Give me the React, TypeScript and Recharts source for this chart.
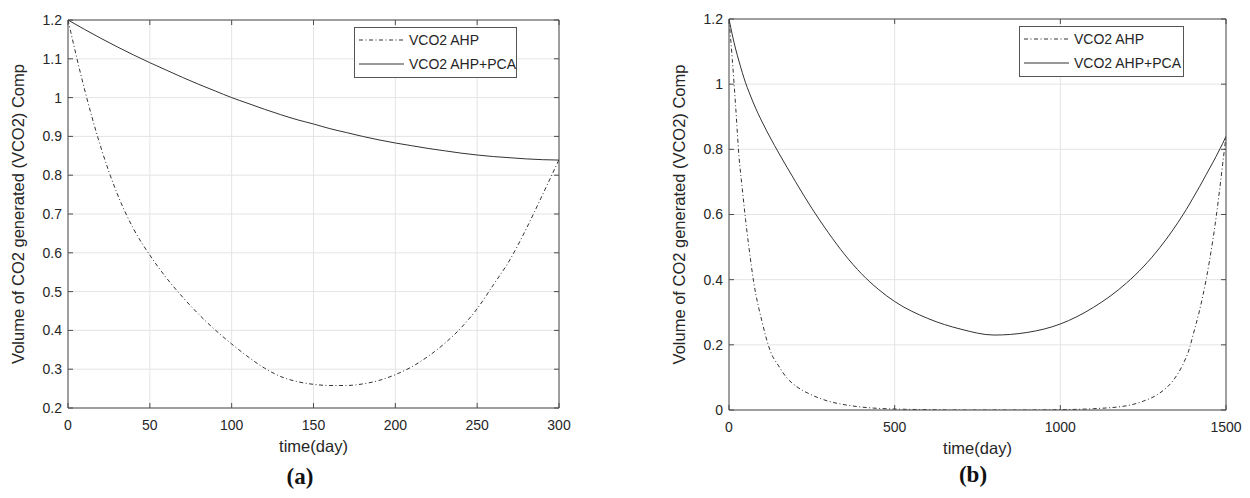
import { LineChart, Line, XAxis, YAxis, CartesianGrid, Legend, ReferenceLine } from 'recharts'

// panel (a): short horizon
const daysA = [0, 10, 20, 30, 40, 50, 60, 70, 80, 90, 100, 110, 120, 130, 140, 150, 160, 170, 180, 190, 200, 210, 220, 230, 240, 250, 260, 270, 280, 290, 300]
const ahpA = [1.2, 1.023, 0.873, 0.753, 0.662, 0.594, 0.536, 0.486, 0.441, 0.401, 0.365, 0.332, 0.303, 0.281, 0.268, 0.261, 0.258, 0.258, 0.262, 0.271, 0.286, 0.306, 0.333, 0.366, 0.406, 0.456, 0.518, 0.582, 0.662, 0.75, 0.84]
const ahpPcaA = [1.2, 1.176, 1.153, 1.131, 1.11, 1.09, 1.071, 1.052, 1.034, 1.017, 1.0, 0.985, 0.97, 0.956, 0.943, 0.932, 0.92, 0.91, 0.9, 0.891, 0.883, 0.876, 0.869, 0.863, 0.857, 0.852, 0.848, 0.845, 0.842, 0.84, 0.839]

// panel (b): long horizon
const daysB = [0, 10, 20, 30, 40, 50, 60, 75, 100, 125, 150, 175, 200, 250, 300, 350, 400, 450, 500, 600, 700, 800, 900, 1000, 1100, 1200, 1250, 1300, 1340, 1370, 1390, 1400, 1420, 1440, 1460, 1470, 1480, 1490, 1500]
const ahpB = [1.2, 1.075, 0.933, 0.78, 0.68, 0.584, 0.5, 0.39, 0.27, 0.18, 0.135, 0.098, 0.075, 0.046, 0.027, 0.016, 0.009, 0.005, 0.003, 0.001, 0, 0, 0, 0.001, 0.004, 0.013, 0.027, 0.052, 0.09, 0.14, 0.19, 0.228, 0.305, 0.4, 0.52, 0.59, 0.67, 0.755, 0.84]
const ahpPcaB = [1.2, 1.151, 1.108, 1.071, 1.036, 1.004, 0.977, 0.939, 0.884, 0.835, 0.789, 0.745, 0.702, 0.619, 0.544, 0.476, 0.418, 0.371, 0.333, 0.281, 0.248, 0.23, 0.238, 0.264, 0.315, 0.39, 0.439, 0.498, 0.553, 0.599, 0.632, 0.65, 0.685, 0.722, 0.759, 0.778, 0.798, 0.818, 0.84]

const xTicksA = [0, 50, 100, 150, 200, 250, 300]
const yTicksA = [0.2, 0.3, 0.4, 0.5, 0.6, 0.7, 0.8, 0.9, 1.0, 1.1, 1.2]
const xTicksB = [0, 500, 1000, 1500]
const yTicksB = [0, 0.2, 0.4, 0.6, 0.8, 1.0, 1.2]

const seriesNames = ['VCO2 AHP', 'VCO2 AHP+PCA']
const yTitle = 'Volume of CO2 generated (VCO2) Comp'
const xTitle = 'time(day)'

const FONT = '"Liberation Sans", Arial, Helvetica, sans-serif'
const INK = '#262626'
const GRID = '#e4e4e4'
const AXIS = '#4d4d4d'
const CURVE = '#333333'
const DASHDOT = '4 2.5 1 2.5'
const TICK_LEN = 5

const tableA = daysA.map((t, i) => ({ t, ahp: ahpA[i], ahpPca: ahpPcaA[i] }))
const tableB = daysB.map((t, i) => ({ t, ahp: ahpB[i], ahpPca: ahpPcaB[i] }))

const fmt = (v: number) => String(+v.toFixed(1))

// short inward tick marks at both ends of a vertical / horizontal reference line
const vTicks = (p: any) => {
  const top = Math.min(p.y1, p.y2)
  const bot = Math.max(p.y1, p.y2)
  return (
    <g>
      <line x1={p.x1} y1={top} x2={p.x1} y2={top + TICK_LEN} stroke={AXIS} />
      <line x1={p.x1} y1={bot} x2={p.x1} y2={bot - TICK_LEN} stroke={AXIS} />
    </g>
  )
}
const hTicks = (p: any) => {
  const left = Math.min(p.x1, p.x2)
  const right = Math.max(p.x1, p.x2)
  return (
    <g>
      <line x1={left} y1={p.y1} x2={left + TICK_LEN} y2={p.y1} stroke={AXIS} />
      <line x1={right} y1={p.y1} x2={right - TICK_LEN} y2={p.y1} stroke={AXIS} />
    </g>
  )
}

function LegendBox() {
  const row = (dash: string | undefined, label: string) => (
    <div style={{ display: 'flex', alignItems: 'center', height: 24 }}>
      <svg width={49} height={10} style={{ flex: 'none' }}>
        <line x1={4} y1={5} x2={49} y2={5} stroke={CURVE} strokeWidth={1} strokeDasharray={dash} />
      </svg>
      <span style={{ marginLeft: 5, fontSize: 14, fontFamily: FONT, color: INK, whiteSpace: 'nowrap' }}>{label}</span>
    </div>
  )
  return (
    <div
      style={{
        boxSizing: 'border-box',
        width: '100%',
        height: '100%',
        border: '1px solid #555',
        background: '#fff',
      }}
    >
      {row(DASHDOT, seriesNames[0])}
      {row(undefined, seriesNames[1])}
    </div>
  )
}

type PanelProps = {
  data: { t: number; ahp: number; ahpPca: number }[]
  xTicks: number[]
  yTicks: number[]
  xDomain: [number, number]
  yDomain: [number, number]
  width: number
  margin: { top: number; right: number; bottom: number; left: number }
  yAxisWidth: number
  legend: { left: number; top: number; width: number }
}

function Panel({ data, xTicks, yTicks, xDomain, yDomain, width, margin, yAxisWidth, legend }: PanelProps) {
  const height = 498
  const plotLeft = margin.left + yAxisWidth
  const plotRight = width - margin.right
  const plotTop = margin.top
  const plotBottom = height - margin.bottom - 30
  const cx = (plotLeft + plotRight) / 2
  const cy = (plotTop + plotBottom) / 2
  const ly = plotLeft - 44

  return (
    <LineChart width={width} height={height} data={data} margin={margin}>
      <CartesianGrid stroke={GRID} horizontal vertical />
      <XAxis
        dataKey="t"
        type="number"
        domain={xDomain}
        ticks={xTicks}
        interval={0}
        allowDataOverflow
        height={30}
        axisLine={{ stroke: AXIS }}
        tickLine={false}
        tickSize={0}
        tickMargin={12}
        tick={{ fill: INK, fontSize: 14, fontFamily: FONT }}
        label={() => (
          <text x={cx} y={plotBottom + 44} textAnchor="middle" fill={INK} fontSize={16.5} fontFamily={FONT}>
            {xTitle}
          </text>
        )}
      />
      <YAxis
        type="number"
        domain={yDomain}
        ticks={yTicks}
        interval={0}
        allowDataOverflow
        width={yAxisWidth}
        axisLine={{ stroke: AXIS }}
        tickLine={false}
        tickSize={0}
        tickMargin={6}
        tickFormatter={fmt}
        tick={{ fill: INK, fontSize: 14, fontFamily: FONT }}
        label={() => (
          <text
            x={ly}
            y={cy}
            transform={`rotate(-90 ${ly} ${cy})`}
            textAnchor="middle"
            fill={INK}
            fontSize={16.5}
            fontFamily={FONT}
          >
            {yTitle}
          </text>
        )}
      />
      {/* box: top and right edges */}
      <ReferenceLine y={yDomain[1]} stroke={AXIS} />
      <ReferenceLine x={xDomain[1]} stroke={AXIS} />
      {xTicks.map((v) => (
        <ReferenceLine key={`xt${v}`} x={v} stroke="none" shape={vTicks} />
      ))}
      {yTicks.map((v) => (
        <ReferenceLine key={`yt${v}`} y={v} stroke="none" shape={hTicks} />
      ))}
      <Line
        type="monotone"
        dataKey="ahp"
        name={seriesNames[0]}
        stroke={CURVE}
        strokeWidth={1}
        strokeDasharray={DASHDOT}
        dot={false}
        isAnimationActive={false}
      />
      <Line
        type="monotone"
        dataKey="ahpPca"
        name={seriesNames[1]}
        stroke={CURVE}
        strokeWidth={1}
        dot={false}
        isAnimationActive={false}
      />
      <Legend
        layout="vertical"
        align="center"
        verticalAlign="middle"
        wrapperStyle={{ left: legend.left, top: legend.top, width: legend.width, height: 51 }}
        content={() => <LegendBox />}
      />
    </LineChart>
  )
}

export default function App() {
  return (
    <div style={{ position: 'fixed', left: 0, top: 0, width: 1250, height: 498, background: '#fff', fontFamily: FONT }}>
      <div style={{ position: 'absolute', left: 0, top: 0 }}>
        <Panel
          data={tableA}
          xTicks={xTicksA}
          yTicks={yTicksA}
          xDomain={[0, 300]}
          yDomain={[0.2, 1.2]}
          width={620}
          margin={{ top: 20, right: 61, bottom: 60, left: 8 }}
          yAxisWidth={60}
          legend={{ left: 354, top: 27, width: 163 }}
        />
      </div>
      <div style={{ position: 'absolute', left: 620, top: 0 }}>
        <Panel
          data={tableB}
          xTicks={xTicksB}
          yTicks={yTicksB}
          xDomain={[0, 1500]}
          yDomain={[0, 1.2]}
          width={630}
          margin={{ top: 19, right: 24, bottom: 58, left: 0 }}
          yAxisWidth={109}
          legend={{ left: 399, top: 26, width: 165 }}
        />
      </div>
      <svg width={1250} height={498} style={{ position: 'absolute', left: 0, top: 0, pointerEvents: 'none' }}>
        <text x={300} y={484} textAnchor="middle" fontSize={23} fontWeight="bold" fontFamily='"Liberation Serif", "Times New Roman", serif' fill="#111">
          (a)
        </text>
        <text x={973} y={482} textAnchor="middle" fontSize={23} fontWeight="bold" fontFamily='"Liberation Serif", "Times New Roman", serif' fill="#111">
          (b)
        </text>
      </svg>
    </div>
  )
}
